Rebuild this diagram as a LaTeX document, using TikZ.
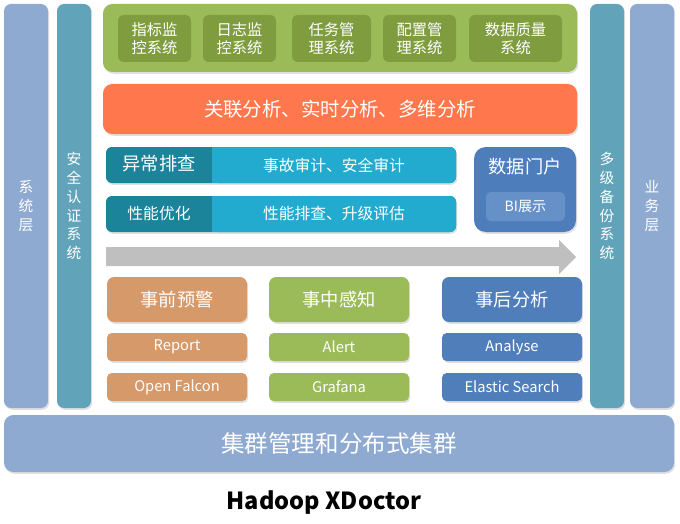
\documentclass[tikz,border=0pt]{standalone}
\usepackage{fontspec}
\setmainfont{Noto Sans CJK SC}
\usetikzlibrary{shadows}

\definecolor{layerblue}{HTML}{8FAAD1}
\definecolor{teal}{HTML}{61A4B9}
\definecolor{grass}{HTML}{9BBB59}
\definecolor{grassdark}{HTML}{7F9C3F}
\definecolor{coral}{HTML}{FF774D}
\definecolor{cyandark}{HTML}{1B849B}
\definecolor{cyanlight}{HTML}{22AACF}
\definecolor{portal}{HTML}{4E7DBC}
\definecolor{portallight}{HTML}{6690C8}
\definecolor{arrowgray}{HTML}{BFBFBF}
\definecolor{sand}{HTML}{D6996A}
\definecolor{steel}{HTML}{4F7EBB}

\begin{document}
\begin{tikzpicture}
[
  x=0.85pt, y=-0.85pt,
  every node/.style={text=white, inner sep=0pt, align=center},
  wh/.style 2 args={minimum width=#1*0.85pt, minimum height=#2*0.85pt},
  shade/.style={drop shadow={opacity=0.25, shadow xshift=1pt, shadow yshift=-1.5pt}},
  pillar/.style={rounded corners=6pt, shade, font=\fontsize{12.5}{16}\selectfont},
  block/.style={rounded corners=6pt, shade},
  inner/.style={rounded corners=5pt, fill=grassdark, font=\fontsize{13}{15.5}\selectfont},
  item/.style={rounded corners=4pt, shade, font=\fontsize{12.5}{15}\selectfont}
]
\useasboundingbox (0,0) rectangle (680,523);

% side pillars
\node[pillar, fill=layerblue, wh={44}{404}] (sys) at (26,206) {系\\统\\层};
\node[pillar, fill=teal, wh={34}{404}] (auth) at (74,206) {安\\全\\认\\证\\系\\统};
\node[pillar, fill=teal, wh={34}{404}] (backup) at (607,206) {多\\级\\备\\份\\系\\统};
\node[pillar, fill=layerblue, wh={44}{404}] (biz) at (652,206) {业\\务\\层};

% monitoring systems
\node[block, rounded corners=8pt, fill=grass, wh={474}{68}] (mon) at (340,38) {};
\node[inner, wh={73}{47}] (metric) at (154.5,38.5) {指标监\\控系统};
\node[inner, wh={73}{47}] (log) at (239.5,38.5) {日志监\\控系统};
\node[inner, wh={79}{47}] (task) at (331.5,38.5) {任务管\\理系统};
\node[inner, wh={73}{47}] (conf) at (419.5,38.5) {配置管\\理系统};
\node[inner, wh={93}{47}] (quality) at (515.5,38.5) {数据质量\\系统};

\node[block, rounded corners=8pt, fill=coral, wh={474}{50}, font=\fontsize{16.5}{20}\selectfont] (analysis) at (340,109) {关联分析、实时分析、多维分析};

% anomaly / performance rows
\node[block, rounded corners=5pt, fill=cyandark, wh={350}{36}] (anomaly) at (281,165) {};
\node[rounded corners=5pt, fill=cyanlight, wh={244}{36}, font=\fontsize{13.4}{16}\selectfont] (audit) at (334,165) {事故审计、安全审计};
\fill[cyanlight] (audit.north west) rectangle ([xshift=8pt]audit.south west);
\node[font=\fontsize{15.5}{18}\selectfont] (anomalyhead) at (159,164) {异常排查};

\node[block, rounded corners=5pt, fill=cyandark, wh={350}{36}] (perf) at (281,214) {};
\node[rounded corners=5pt, fill=cyanlight, wh={244}{36}, font=\fontsize{13.4}{16}\selectfont] (upgrade) at (334,214) {性能排查、升级评估};
\fill[cyanlight] (upgrade.north west) rectangle ([xshift=8pt]upgrade.south west);
\node[font=\fontsize{13.4}{16}\selectfont] (perfhead) at (159,213) {性能优化};

% data portal
\node[block, rounded corners=10pt, fill=portal, wh={102}{85}] (portal) at (525,189.5) {};
\node[font=\fontsize{15.5}{18}\selectfont] (portaltitle) at (525,167) {数据门户};
\node[rounded corners=4pt, fill=portallight, wh={79}{29}, font=\fontsize{12}{14}\selectfont] (bi) at (525.5,206.5) {BI展示};

% flow arrow
\fill[arrowgray] (106,247) -- (559,247) -- (559,240) -- (576,257) -- (559,274) -- (559,266) -- (106,266) -- cycle;

% before / during / after
\node[block, fill=sand, wh={140}{45}, font=\fontsize{15.5}{18}\selectfont] (before) at (177,299.5) {事前预警};
\node[item, fill=sand, wh={140}{28}] (report) at (177,347) {Report};
\node[item, fill=sand, wh={140}{28}] (falcon) at (177,387) {Open Falcon};

\node[block, fill=grass, wh={140}{45}, font=\fontsize{15.5}{18}\selectfont] (during) at (339,299.5) {事中感知};
\node[item, fill=grass, wh={140}{28}] (alert) at (339,347) {Alert};
\node[item, fill=grass, wh={140}{28}] (grafana) at (339,387) {Grafana};

\node[block, fill=steel, wh={140}{45}, font=\fontsize{15.5}{18}\selectfont] (after) at (512,299.5) {事后分析};
\node[item, fill=steel, wh={140}{28}] (analyse) at (512,347) {Analyse};
\node[item, fill=steel, wh={140}{28}] (elastic) at (512,387) {Elastic Search};

% cluster base
\node[block, rounded corners=8pt, fill=layerblue, wh={670}{57}, font=\fontsize{20}{24}\selectfont] (cluster) at (339,443.5) {集群管理和分布式集群};

\node[text=black, font=\bfseries\fontsize{20}{24}\selectfont] (title) at (324,503) {Hadoop XDoctor};
\end{tikzpicture}
\end{document}
